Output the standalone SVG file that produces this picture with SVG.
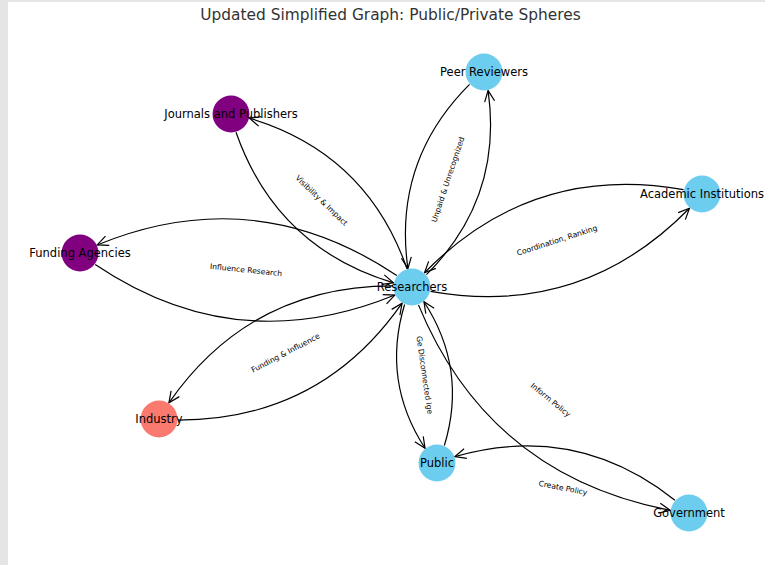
<svg xmlns="http://www.w3.org/2000/svg" width="765" height="565" viewBox="0 0 765 565">
<style>
.edge{fill:none;stroke:#000;stroke-width:1.2;marker-end:url(#arr)}
.node-label{font-family:"DejaVu Sans",sans-serif;font-size:11.5px;fill:#000;text-anchor:middle}
.edge-label{font-family:"DejaVu Sans",sans-serif;font-size:7.6px;fill:#000;text-anchor:middle;dominant-baseline:central}
.blue{fill:#6dcdef}
.purple{fill:#800080}
.salmon{fill:#fa7a6f}
</style>
<defs>
<marker id="arr" viewBox="-13 -7 15 14" refX="0" refY="0" markerWidth="15" markerHeight="14" markerUnits="userSpaceOnUse" orient="auto">
<path d="M-11,-5 L0,0 L-11,5" fill="none" stroke="#000" stroke-width="1.2"/>
</marker>
</defs>
<rect x="0" y="0" width="765" height="565" fill="#e5e5e5"/>
<rect x="8" y="2" width="757" height="563" fill="#ffffff"/>
<text x="390.5" y="20" font-family="DejaVu Sans, sans-serif" font-size="15.4" fill="#333" text-anchor="middle">Updated Simplified Graph: Public/Private Spheres</text>
<g id="connectors">
<path class="edge" d="M426.45,274.65 Q503.23,198.0 488.1,90.56"/>
<path class="edge" d="M469.55,84.35 Q392.77,161.0 407.9,268.44"/>
<path class="edge" d="M406.98,268.68 Q366.65,153.27 249.53,118.19"/>
<path class="edge" d="M236.02,132.32 Q276.35,247.73 393.47,282.81"/>
<path class="edge" d="M430.5,291.33 Q581.91,318.19 689.47,208.28"/>
<path class="edge" d="M683.5,189.67 Q532.09,162.81 424.53,272.72"/>
<path class="edge" d="M396.79,275.62 Q255.2,180.13 97.2,244.94"/>
<path class="edge" d="M95.21,264.38 Q236.8,359.87 394.8,295.06"/>
<path class="edge" d="M393.03,285.87 Q250.42,285.77 168.92,402.8"/>
<path class="edge" d="M177.97,420.13 Q320.58,420.23 402.08,303.2"/>
<path class="edge" d="M404.61,304.5 Q381.38,381.13 425.03,448.24"/>
<path class="edge" d="M444.39,445.5 Q467.62,368.87 423.97,301.76"/>
<path class="edge" d="M418.44,304.88 Q488.88,475.53 670.19,510.27"/>
<path class="edge" d="M674.92,500.24 Q576.1,421.99 454.89,456.58"/>
<text class="edge-label" transform="translate(448,179.5) rotate(-71.5)">Unpaid &amp; Unrecognized</text>
<text class="edge-label" transform="translate(321.5,200.5) rotate(43.7)">Visibility &amp; Impact</text>
<text class="edge-label" transform="translate(557,240.5) rotate(-17.8)">Coordination, Ranking</text>
<text class="edge-label" transform="translate(246,270) rotate(5.85)">Influence Research</text>
<text class="edge-label" transform="translate(285.5,353) rotate(-27.55)">Funding &amp; Influence</text>
<text class="edge-label" transform="translate(424.5,375) rotate(81.9)">Ge Disconnected lge</text>
<text class="edge-label" transform="translate(550.5,400) rotate(39.2)">Inform Policy</text>
<text class="edge-label" transform="translate(563,488) rotate(11.2)">Create Policy</text>
</g>
<g id="researchers"><circle class="blue" cx="412" cy="287" r="18.5"/><text class="node-label" x="412" y="291">Researchers</text></g>
<g id="peer-reviewers"><circle class="blue" cx="484" cy="72" r="18.5"/><text class="node-label" x="484" y="76">Peer Reviewers</text></g>
<g id="journals"><circle class="purple" cx="231" cy="114" r="18.5"/><text class="node-label" x="231" y="118">Journals and Publishers</text></g>
<g id="academic"><circle class="blue" cx="702" cy="194" r="18.5"/><text class="node-label" x="702" y="198">Academic Institutions</text></g>
<g id="funding"><circle class="purple" cx="80" cy="253" r="18.5"/><text class="node-label" x="80" y="257">Funding Agencies</text></g>
<g id="industry"><circle class="salmon" cx="159" cy="419" r="18.5"/><text class="node-label" x="159" y="423">Industry</text></g>
<g id="public"><circle class="blue" cx="437" cy="463" r="18.5"/><text class="node-label" x="437" y="467">Public</text></g>
<g id="government"><circle class="blue" cx="689" cy="513" r="18.5"/><text class="node-label" x="689" y="517">Government</text></g>
</svg>
